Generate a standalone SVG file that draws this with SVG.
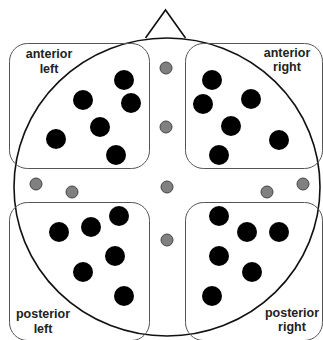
<svg xmlns="http://www.w3.org/2000/svg" width="323" height="340" viewBox="0 0 323 340">
<style>
.region{fill:none;stroke:#555;stroke-width:1}
.head{fill:none;stroke:#111;stroke-width:1.6}
.e{fill:#000}
.r{fill:#808080;stroke:#444;stroke-width:1}
.lbl{font-family:"Liberation Sans",Arial,sans-serif;font-weight:bold;font-size:12.5px;fill:#222;text-anchor:middle}
</style>
<rect width="323" height="340" fill="#fff"/>
<g id="head">
<polyline class="head" points="145.5,38 165.5,10 185.5,38"/>
<ellipse class="head" cx="167" cy="187" rx="153" ry="149"/>
</g>
<g id="anterior-left">
<rect class="region" x="9.5" y="43.5" width="140" height="125" rx="18"/>
<text class="lbl" x="49" y="58">anterior</text>
<text class="lbl" x="49" y="73">left</text>
<circle class="e" cx="124" cy="80" r="10"/>
<circle class="e" cx="131" cy="103" r="10"/>
<circle class="e" cx="83" cy="100" r="10"/>
<circle class="e" cx="100" cy="127" r="10"/>
<circle class="e" cx="56" cy="139" r="10"/>
<circle class="e" cx="116" cy="155" r="10"/>
</g>
<g id="anterior-right">
<rect class="region" x="185.5" y="43.5" width="137" height="125" rx="18"/>
<text class="lbl" x="287" y="57">anterior</text>
<text class="lbl" x="287" y="71">right</text>
<circle class="e" cx="212" cy="80" r="10"/>
<circle class="e" cx="203" cy="104" r="10"/>
<circle class="e" cx="251" cy="99" r="10"/>
<circle class="e" cx="231" cy="126" r="10"/>
<circle class="e" cx="279" cy="140" r="10"/>
<circle class="e" cx="219" cy="155" r="10"/>
</g>
<g id="posterior-left">
<rect class="region" x="9.5" y="202.5" width="140" height="138" rx="18"/>
<text class="lbl" x="43" y="318">posterior</text>
<text class="lbl" x="43" y="332.5">left</text>
<circle class="e" cx="59" cy="232" r="10"/>
<circle class="e" cx="91" cy="227" r="10"/>
<circle class="e" cx="119" cy="216" r="10"/>
<circle class="e" cx="115" cy="256" r="10"/>
<circle class="e" cx="83" cy="272" r="10"/>
<circle class="e" cx="124" cy="296" r="10"/>
</g>
<g id="posterior-right">
<rect class="region" x="185.5" y="202.5" width="137" height="138" rx="18"/>
<text class="lbl" x="292" y="317">posterior</text>
<text class="lbl" x="292" y="331">right</text>
<circle class="e" cx="219" cy="216" r="10"/>
<circle class="e" cx="247" cy="232" r="10"/>
<circle class="e" cx="279" cy="232" r="10"/>
<circle class="e" cx="219" cy="256" r="10"/>
<circle class="e" cx="252" cy="272" r="10"/>
<circle class="e" cx="212" cy="296" r="10"/>
</g>
<g id="reference-electrodes">
<circle class="r" cx="166" cy="68" r="6"/>
<circle class="r" cx="166" cy="127" r="6"/>
<circle class="r" cx="36" cy="184" r="6"/>
<circle class="r" cx="72" cy="192" r="6"/>
<circle class="r" cx="167" cy="187" r="6"/>
<circle class="r" cx="267" cy="192" r="6"/>
<circle class="r" cx="303" cy="184" r="6"/>
<circle class="r" cx="167" cy="240" r="6"/>
</g>
<g id="connectors"></g>
</svg>
